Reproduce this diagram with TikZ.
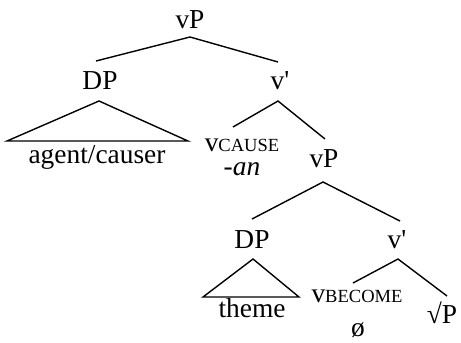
\documentclass[tikz,border=0pt]{standalone}
\usepackage{fontspec}
\setmainfont{Liberation Serif}
\begin{document}
\begin{tikzpicture}[x=1bp,y=-1bp,
  lab/.style={anchor=base,inner sep=0pt,font=\fontsize{27.5}{30}\selectfont},
  edge/.style={line width=1.4bp,line join=miter}]
\useasboundingbox (0,0) rectangle (461,342);
\newcommand{\smc}[1]{{\fontsize{18.6}{20}\selectfont #1}}
% labels
\node[lab] (vP1) at (190,28) {vP};
\node[lab] (DP1) at (100,89) {DP};
\node[lab] (vb1) at (280,89) {v\textquotesingle};
\node[lab] (ag) at (97,163) {agent/causer};
\node[lab] (vc) at (242,151) {v\smc{CAUSE}};
\node[lab] (an) at (242,175) {\textit{-an}};
\node[lab] (vP2) at (324,167) {vP};
\node[lab] (DP2) at (252,248) {DP};
\node[lab] (vb2) at (397,248) {v\textquotesingle};
\node[lab] (th) at (252,317) {theme};
\node[lab] (vbe) at (357,302) {v\smc{BECOME}};
\node[lab] (oe) at (358,336) {ø};
\node[lab] (rP) at (442,323) {√P};
% branches
\draw[edge] ([xshift=-4bp,yshift=28bp]DP1.base) -- ([yshift=-9bp]vP1.base) -- ([xshift=-2bp,yshift=27bp]vb1.base);
\draw[edge] ([xshift=-1bp,yshift=-12bp]DP1.base) -- ([xshift=-90bp,yshift=22bp]ag.base) -- ([xshift=91bp,yshift=22bp]ag.base) -- cycle;
\draw[edge] ([xshift=-9bp,yshift=24bp]vc.base) -- ([xshift=-2bp,yshift=-12bp]vb1.base) -- ([xshift=1bp,yshift=28bp]vP2.base);
\draw[edge] ([yshift=29bp]DP2.base) -- ([xshift=-1bp,yshift=-15bp]vP2.base) -- ([xshift=3bp,yshift=27bp]vb2.base);
\draw[edge] ([xshift=1bp,yshift=-11bp]DP2.base) -- ([xshift=-49bp,yshift=20bp]th.base) -- ([xshift=47bp,yshift=20bp]th.base) -- cycle;
\draw[edge] ([xshift=-4bp,yshift=19bp]vbe.base) -- ([xshift=1bp,yshift=-11bp]vb2.base) -- ([xshift=5bp,yshift=27bp]rP.base);
\end{tikzpicture}
\end{document}
